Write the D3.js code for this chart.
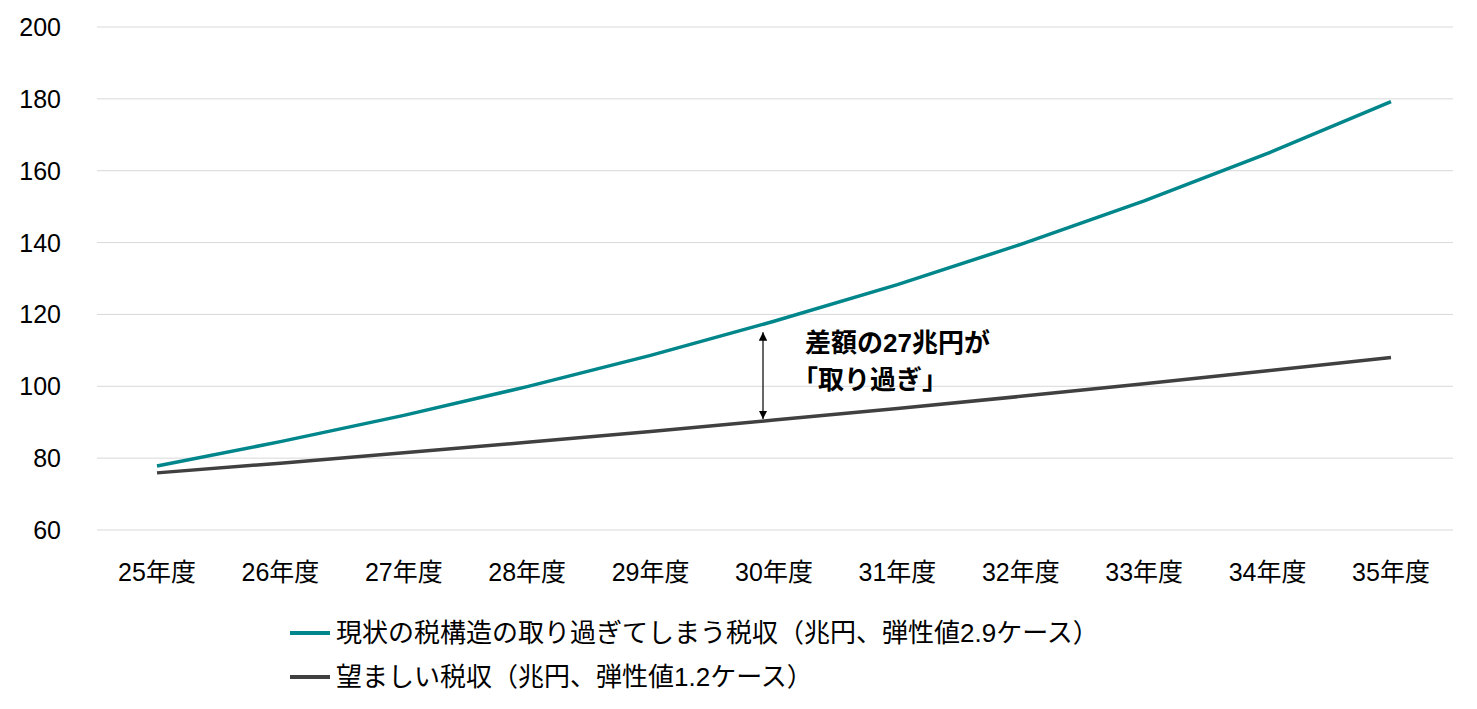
<!DOCTYPE html>
<html><head><meta charset="utf-8">
<script src="https://cdn.jsdelivr.net/npm/d3@7"></script>
<style>body{margin:0;background:#fff;font-family:"Liberation Sans",Arial,"Noto Sans CJK JP",sans-serif;}</style>
</head><body><svg id="c" width="1477" height="709"></svg>
<script>
const categories=["25年度","26年度","27年度","28年度","29年度","30年度","31年度","32年度","33年度","34年度","35年度"];
const current=[77.8,84.6,91.9,99.9,108.6,118.1,128.3,139.5,151.6,164.8,179.2];
const desired=[75.9,78.6,81.5,84.4,87.4,90.6,93.8,97.2,100.7,104.3,108.0];
const yTicks=[60,80,100,120,140,160,180,200];
const seriesNames=["現状の税構造の取り過ぎてしまう税収（兆円、弾性値2.9ケース）","望ましい税収（兆円、弾性値1.2ケース）"];
const colors=["#00868B","#404040"];
const svg=d3.select("#c");
const x=d3.scalePoint().domain(categories).range([157,1391]);
const y=d3.scaleLinear().domain([60,200]).range([530,27]);
const font='"Liberation Sans",Arial,"Noto Sans CJK JP",sans-serif';
svg.append("g").selectAll("line").data(yTicks).join("line")
 .attr("x1",97).attr("x2",1453).attr("y1",d=>y(d)).attr("y2",d=>y(d))
 .attr("stroke","#d9d9d9").attr("stroke-width",1);
svg.append("g").selectAll("text").data(yTicks).join("text")
 .attr("x",61).attr("y",d=>y(d)+9).attr("text-anchor","end")
 .attr("font-size",25).attr("font-family",font).attr("fill","#000").text(d=>d);
svg.append("g").selectAll("text").data(categories).join("text")
 .attr("x",d=>x(d)).attr("y",581).attr("text-anchor","middle")
 .attr("font-size",25).attr("font-family",font).attr("fill","#000").text(d=>d);
const line=d3.line().x((d,i)=>x(categories[i])).y(d=>y(d));
[current,desired].forEach((s,i)=>svg.append("path").attr("d",line(s)).attr("fill","none")
 .attr("stroke",colors[i]).attr("stroke-width",3.5));
const defs=svg.append("defs");
defs.append("marker").attr("id","ah").attr("viewBox","0 0 10 10").attr("refX",10).attr("refY",5)
 .attr("markerWidth",7).attr("markerHeight",7).attr("orient","auto-start-reverse")
 .append("path").attr("d","M0,0L10,5L0,10z").attr("fill","#000");
const ax=x("30年度")-11;
svg.append("line").attr("x1",ax).attr("x2",ax).attr("y1",y(current[5])+11).attr("y2",y(desired[5])-1)
 .attr("stroke","#000").attr("stroke-width",1.2).attr("marker-start","url(#ah)").attr("marker-end","url(#ah)");
svg.append("text").attr("x",805).attr("y",352).attr("font-size",26).attr("font-weight","bold")
 .attr("font-family",font).text("差額の27兆円が");
svg.append("text").attr("x",792).attr("y",389).attr("font-size",26).attr("font-weight","bold")
 .attr("font-family",font).text("「取り過ぎ」");
seriesNames.forEach((n,i)=>{
 const yy=633+i*44;
 svg.append("line").attr("x1",290).attr("x2",330).attr("y1",yy).attr("y2",yy).attr("stroke",colors[i]).attr("stroke-width",4);
 svg.append("text").attr("x",336).attr("y",yy+9).attr("font-size",26).attr("font-family",font).text(n);
});
</script></body></html>
